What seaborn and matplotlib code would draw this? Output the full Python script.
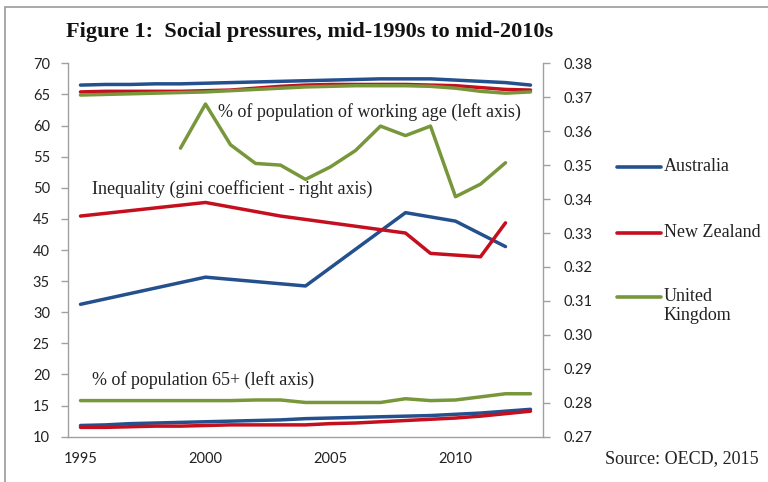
import numpy as np
import pandas as pd
import matplotlib
matplotlib.use('Agg')
import matplotlib.pyplot as plt
import seaborn as sns
from matplotlib.lines import Line2D
from matplotlib.patches import Rectangle
from matplotlib.ticker import FixedLocator, FormatStrFormatter

# ---- data ----
years = list(range(1995, 2014))
countries = ['Australia', 'New Zealand', 'United Kingdom']

# % of population of working age (left axis)
work_aus = [66.5, 66.6, 66.6, 66.7, 66.7, 66.8, 66.9, 67.0, 67.1, 67.2, 67.3, 67.4, 67.5, 67.5, 67.5, 67.3, 67.1, 66.9, 66.5]
work_nz = [65.4, 65.5, 65.5, 65.5, 65.5, 65.6, 65.7, 66.0, 66.3, 66.5, 66.6, 66.6, 66.6, 66.6, 66.5, 66.4, 66.1, 65.8, 65.7]
work_uk = [64.9, 65.0, 65.1, 65.2, 65.3, 65.4, 65.6, 65.8, 66.0, 66.2, 66.3, 66.4, 66.4, 66.4, 66.3, 66.0, 65.5, 65.2, 65.4]

# % of population 65+ (left axis)
old_aus = [11.8, 11.9, 12.1, 12.2, 12.3, 12.4, 12.5, 12.6, 12.7, 12.9, 13.0, 13.1, 13.2, 13.3, 13.4, 13.6, 13.8, 14.1, 14.4]
old_nz = [11.5, 11.5, 11.6, 11.7, 11.7, 11.8, 11.9, 11.9, 11.9, 11.9, 12.1, 12.2, 12.4, 12.6, 12.8, 13.0, 13.3, 13.7, 14.1]
old_uk = [15.8, 15.8, 15.8, 15.8, 15.8, 15.8, 15.8, 15.9, 15.9, 15.5, 15.5, 15.5, 15.5, 16.1, 15.8, 15.9, 16.4, 16.9, 16.9]

# Inequality, gini coefficient (right axis) - only survey years
gini_aus_years = [1995, 2000, 2004, 2008, 2010, 2012]
gini_aus = [0.309, 0.317, 0.3144, 0.336, 0.3335, 0.326]
gini_nz_years = [1995, 2000, 2003, 2008, 2009, 2011, 2012]
gini_nz = [0.335, 0.339, 0.335, 0.330, 0.324, 0.323, 0.333]
gini_uk_years = list(range(1999, 2013))
gini_uk = [0.355, 0.368, 0.356, 0.3505, 0.350, 0.3458, 0.3495, 0.3543, 0.3615, 0.3587, 0.3615, 0.3407, 0.3444, 0.3507]

colors = {'Australia': '#24508E', 'New Zealand': '#C50F1F', 'United Kingdom': '#77973A'}
axis_grey = '#A0A0A0'
text_col = '#222222'

# ---- long tables for seaborn ----
left_rows = []
for measure, series in [('working', [work_aus, work_nz, work_uk]), ('65+', [old_aus, old_nz, old_uk])]:
    for country, vals in zip(countries, series):
        for yr, v in zip(years, vals):
            left_rows.append({'year': yr, 'value': v, 'country': country, 'measure': measure})
left_df = pd.DataFrame(left_rows)

gini_rows = []
for country, yrs, vals in zip(countries, [gini_aus_years, gini_nz_years, gini_uk_years], [gini_aus, gini_nz, gini_uk]):
    for yr, v in zip(yrs, vals):
        gini_rows.append({'year': yr, 'gini': v, 'country': country})
gini_df = pd.DataFrame(gini_rows)

# ---- style ----
sns.set_style('white')
plt.rcParams['font.family'] = ['Lato', 'DejaVu Sans']
serif = ['Liberation Serif', 'DejaVu Serif']

W, H = 768, 482
fig = plt.figure(figsize=(W / 100, H / 100), dpi=100)
fig.patch.set_facecolor('white')

# outer frame like the original screenshot
fig.add_artist(Rectangle((5 / W, -0.1), 1.2, 1.1 - 7 / H, transform=fig.transFigure,
                         fill=False, edgecolor='#9A9A9A', lw=1.2))

ax = fig.add_axes([68 / W, (H - 436.7) / H, 475 / W, 373.4 / H])
sns.lineplot(data=left_df, x='year', y='value', hue='country', units='measure',
             estimator=None, palette=colors, lw=2.5, ax=ax, legend=False)

ax2 = ax.twinx()
sns.lineplot(data=gini_df, x='year', y='gini', hue='country', palette=colors,
             lw=2.5, ax=ax2, legend=False)

# axes ranges and ticks
ax.set_xlim(1994.5, 2013.5)
ax.set_ylim(10, 70)
ax.set_yticks(np.arange(10, 71, 5))
ax2.set_ylim(0.27, 0.38)
ax2.set_yticks(np.arange(0.27, 0.3801, 0.01))
ax2.yaxis.set_major_formatter(FormatStrFormatter('%.2f'))

ax.set_xticks([1995, 2000, 2005, 2010])
ax.xaxis.set_minor_locator(FixedLocator(np.arange(1994.5, 2014, 1)))
ax.tick_params(axis='x', which='major', length=0, pad=11, labelsize=10.5, labelcolor=text_col)
ax.tick_params(axis='x', which='minor', length=6, width=1, color=axis_grey, direction='out')
ax.tick_params(axis='y', length=5, width=1, color=axis_grey, pad=8, labelsize=10.5, labelcolor=text_col, left=True)
ax2.tick_params(axis='y', length=5, width=1, color=axis_grey, pad=10, labelsize=10.5, labelcolor=text_col, right=True)

ax.set_xlabel('')
ax.set_ylabel('')
ax2.set_ylabel('')

for a in (ax, ax2):
    a.spines['top'].set_visible(False)
    for s in a.spines.values():
        s.set_color(axis_grey)
        s.set_linewidth(1)
ax.spines['right'].set_visible(False)
ax2.spines['left'].set_visible(False)
ax2.spines['bottom'].set_visible(False)

# series annotations
ax.text(2000.5, 62.2, '% of population of working age (left axis)', family=serif,
        fontsize=13, color=text_col, ha='left', va='center')
ax.text(1995.46, 49.8, 'Inequality (gini coefficient - right axis)', family=serif,
        fontsize=13, color=text_col, ha='left', va='center')
ax.text(1995.46, 19.1, '% of population 65+ (left axis)', family=serif,
        fontsize=13, color=text_col, ha='left', va='center')

# legend drawn beside the chart
legend_y = {'Australia': 167, 'New Zealand': 233, 'United Kingdom': 297}
legend_lbl = {'Australia': 'Australia', 'New Zealand': 'New Zealand', 'United Kingdom': 'United\nKingdom'}
for c in countries:
    yy = 1 - legend_y[c] / H
    fig.add_artist(Line2D([617 / W, 661 / W], [yy, yy], transform=fig.transFigure,
                          color=colors[c], lw=2.6))
    fig.text(664 / W, yy + 9 / H, legend_lbl[c], family=serif, fontsize=13,
             color=text_col, ha='left', va='top', linespacing=1.15)

fig.text(66 / W, 1 - 32 / H, 'Figure 1:  Social pressures, mid-1990s to mid-2010s',
         family=serif, fontsize=16, fontweight='bold', color='#111111', ha='left', va='center')
fig.text(605 / W, 1 - 459 / H, 'Source: OECD, 2015', family=serif, fontsize=13,
         color=text_col, ha='left', va='center')

fig.savefig('out.png', dpi=100)
